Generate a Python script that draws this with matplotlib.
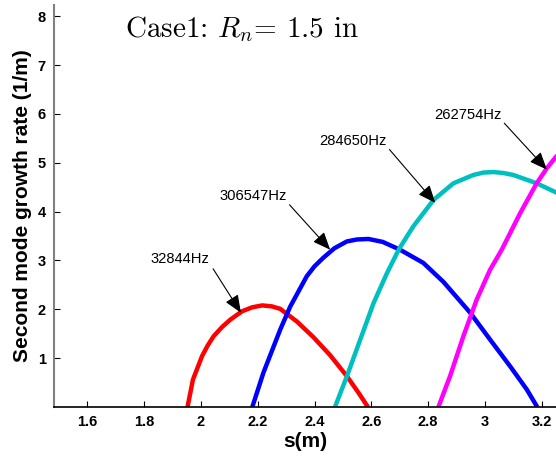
import matplotlib
matplotlib.use('Agg')
import matplotlib.pyplot as plt

plt.rcParams['font.family'] = ['Liberation Sans', 'DejaVu Sans']
plt.rcParams['mathtext.fontset'] = 'cm'

# Данные кривых (s в м, скорость роста в 1/м)
s_red = [1.953, 1.972, 2.004, 2.024, 2.045, 2.075, 2.104, 2.145, 2.180, 2.216, 2.250, 2.279,
         2.338, 2.396, 2.455, 2.514, 2.555, 2.588]
g_red = [0, 0.56, 1.04, 1.26, 1.45, 1.64, 1.79, 1.96, 2.04, 2.08, 2.06, 2.01,
         1.75, 1.43, 1.06, 0.63, 0.29, 0]

s_blue = [2.181, 2.220, 2.279, 2.314, 2.373, 2.400, 2.430, 2.470, 2.514, 2.550, 2.590, 2.640,
          2.701, 2.783, 2.854, 2.948, 3.018, 3.089, 3.147, 3.184]
g_blue = [0, 0.70, 1.58, 2.05, 2.68, 2.88, 3.05, 3.25, 3.39, 3.43, 3.44, 3.38,
          3.22, 2.95, 2.56, 1.93, 1.38, 0.83, 0.36, 0]

s_cyan = [2.472, 2.514, 2.561, 2.608, 2.655, 2.698, 2.748, 2.819, 2.889, 2.959, 2.995, 3.030,
          3.065, 3.100, 3.182, 3.255]
g_cyan = [0, 0.63, 1.38, 2.13, 2.74, 3.24, 3.70, 4.24, 4.58, 4.75, 4.80, 4.81,
          4.79, 4.75, 4.58, 4.38]

s_mag = [2.836, 2.877, 2.924, 2.971, 3.018, 3.059, 3.124, 3.182, 3.218, 3.255]
g_mag = [0, 0.63, 1.45, 2.20, 2.81, 3.22, 3.97, 4.58, 4.89, 5.16]

x_ticks = [1.6, 1.8, 2.0, 2.2, 2.4, 2.6, 2.8, 3.0, 3.2]
x_tick_labels = ['1.6', '1.8', '2', '2.2', '2.4', '2.6', '2.8', '3', '3.2']
y_ticks = [1, 2, 3, 4, 5, 6, 7, 8]

# Подписи частот: текст, позиция текста, начало и конец стрелки
labels = ['32844Hz', '306547Hz', '284650Hz', '262754Hz']
label_pos = [(1.927, 3.04), (2.185, 4.31), (2.535, 5.44), (2.941, 5.98)]
arrow_tail = [(2.043, 2.83), (2.312, 4.14), (2.664, 5.27), (3.068, 5.81)]
arrow_tip = [(2.141, 1.93), (2.455, 3.22), (2.825, 4.18), (3.218, 4.86)]

fig = plt.figure(figsize=(5.56, 4.58), dpi=100)
ax = fig.add_axes([54 / 556, 51 / 458, 502 / 556, 402 / 458])

style = dict(lw=3.2, solid_joinstyle='round', solid_capstyle='butt')
ax.plot(s_red, g_red, color='#ff0000', **style)
ax.plot(s_blue, g_blue, color='#0000ff', **style)
ax.plot(s_cyan, g_cyan, color='#00bfbf', **style)
ax.plot(s_mag, g_mag, color='#ff00ff', **style)

ax.set_xlim(1.483, 3.25)
ax.set_ylim(0, 8.23)
ax.set_xticks(x_ticks)
ax.set_xticklabels(x_tick_labels)
ax.set_yticks(y_ticks)
ax.tick_params(direction='in', length=4, width=0.8, labelsize=10.5, pad=6)
for lab in ax.get_xticklabels() + ax.get_yticklabels():
    lab.set_fontweight('bold')

ax.spines['top'].set_visible(False)
ax.spines['right'].set_visible(False)
ax.spines['left'].set_color('#808080')
ax.spines['left'].set_linewidth(1.5)
ax.spines['bottom'].set_linewidth(1.2)

ax.set_xlabel('s(m)', fontsize=15, fontweight='bold', labelpad=2)
ax.set_ylabel('Second mode growth rate (1/m)', fontsize=15, fontweight='bold', labelpad=4)

for text, pos, tail, tip in zip(labels, label_pos, arrow_tail, arrow_tip):
    ax.text(pos[0], pos[1], text, fontsize=10.6, ha='center', va='center')
    ax.annotate('', xy=tip, xytext=tail,
                arrowprops=dict(arrowstyle='-|>,head_length=0.6,head_width=0.25',
                                color='black', lw=0.8,
                                mutation_scale=18, shrinkA=0, shrinkB=0))

ax.text((125 - 54) / 502, (407.5 - 38) / 402, r'Case1: $R_n$= 1.5 in',
        transform=ax.transAxes, family='cmr10', fontsize=21,
        ha='left', va='baseline')

fig.savefig('out.png', dpi=100)
